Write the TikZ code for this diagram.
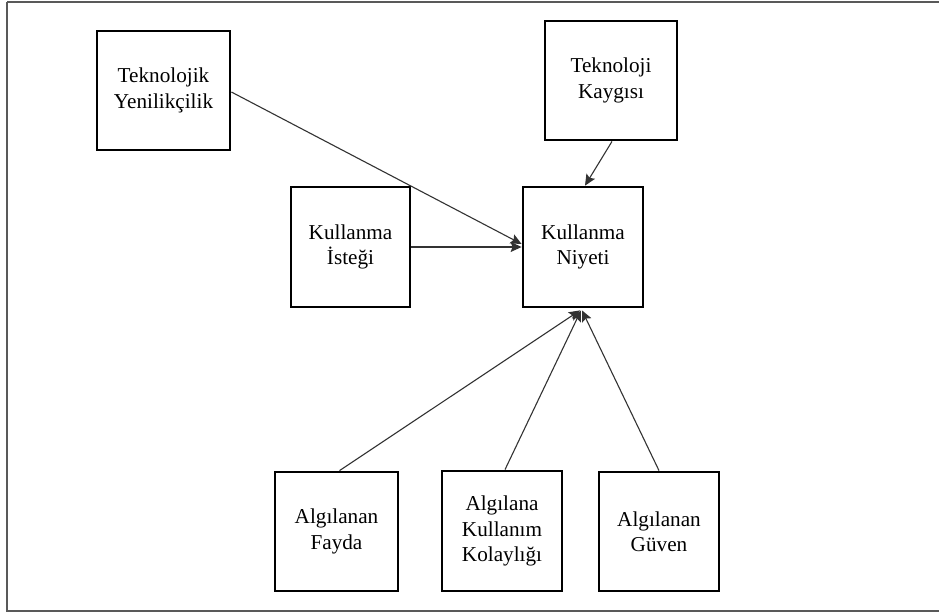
\documentclass[tikz,border=0pt]{standalone}
\usepackage{fontspec}
\setmainfont{Liberation Serif}
\usetikzlibrary{arrows.meta}
\begin{document}
\begin{tikzpicture}[x=1pt,y=-1pt,
  box/.style={draw=black,line width=2.8pt,rectangle,align=center,
    font=\fontsize{21.2}{25.5}\selectfont,inner sep=0pt},
  conn/.style={draw=black!80,line width=1.1pt,-{Stealth[length=11pt,width=10pt,inset=2pt]}}]
\useasboundingbox (0,0) rectangle (939,613);
\fill[white] (0,0) rectangle (939,613);
\draw[black!65,line width=1.3pt] (7,2) -- (942,2) (7,2) -- (7,611) -- (942,611);
\node[box,minimum width=133pt,minimum height=119pt] (ty) at (163.5,90.5) {Teknolojik\\Yenilikçilik};
\node[box,minimum width=132pt,minimum height=119pt] (tk) at (611,80.5) {Teknoloji\\Kaygısı};
\node[box,minimum width=119pt,minimum height=120pt] (ki) at (350.5,247) {Kullanma\\İsteği};
\node[box,minimum width=120pt,minimum height=120pt] (kn) at (583,247) {Kullanma\\Niyeti};
\node[box,minimum width=123pt,minimum height=119pt] (af) at (336.5,531.5) {Algılanan\\Fayda};
\node[box,minimum width=120pt,minimum height=120pt] (akk) at (502,531) {Algılana\\Kullanım\\Kolaylığı};
\node[box,minimum width=120pt,minimum height=119pt] (ag) at (659,531.5) {Algılanan\\Güven};
\draw[conn] ([yshift=-1.5pt]ty.east) -- ([yshift=3pt]kn.west);
\draw[conn] (ki.east) -- (kn.west);
\draw[conn] ([xshift=1pt]tk.south) -- ([xshift=2pt]kn.north);
\draw[conn] ([xshift=3pt]af.north) -- ([xshift=-3pt,yshift=-2pt]kn.south);
\draw[conn] ([xshift=3pt]akk.north) -- ([xshift=-2pt,yshift=-2pt]kn.south);
\draw[conn] (ag.north) -- ([xshift=-1pt,yshift=-2pt]kn.south);
\end{tikzpicture}
\end{document}
